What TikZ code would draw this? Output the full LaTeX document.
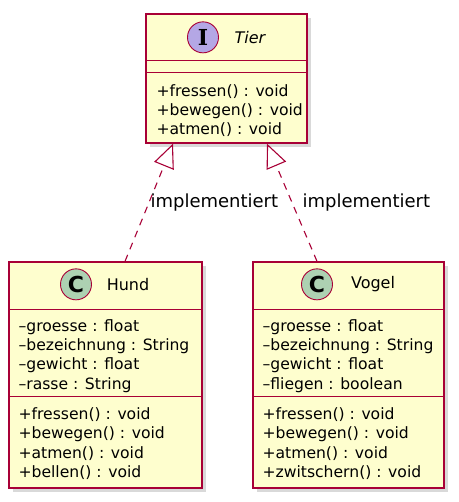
\documentclass[tikz,border=0pt]{standalone}
\usepackage{fontspec}
\setmainfont{DejaVu Sans}
\newfontfamily\iconfont{DejaVu Serif}
\usepackage{tikz}
\usetikzlibrary{arrows.meta,positioning,calc,shadows}
\definecolor{umlfill}{HTML}{FEFECE}
\definecolor{umlline}{HTML}{A80036}
\definecolor{ifacefill}{HTML}{B4A7E5}
\definecolor{classfill}{HTML}{ADD1B2}
\begin{document}
\begin{tikzpicture}[x=1pt, y=1pt,
  cls/.style={draw=umlline, line width=1.3pt, fill=umlfill, rectangle, inner sep=0pt, drop shadow={shadow xshift=4pt, shadow yshift=-4pt, opacity=0.3}},
  sep/.style={draw=umlline, line width=1.3pt},
  icon/.style={draw=umlline, line width=0.9pt, circle, minimum size=31pt, inner sep=0pt, font=\fontsize{22}{22}\selectfont\bfseries},
  cname/.style={font=\fontsize{16}{19}\selectfont, inner sep=0pt},
  mbr/.style={font=\fontsize{15.6}{19.3}\selectfont, align=left, anchor=north west, inner sep=0pt},
  impl/.style={draw=umlline, line width=1.1pt, dash pattern=on 7pt off 6pt, -{Triangle[open, length=24pt, width=21pt, line width=1.1pt]}},
  lbl/.style={font=\fontsize{18}{19}\selectfont, inner sep=0pt, anchor=west}
]
\useasboundingbox (0,0) rectangle (458,502);

% interface
\node[cls, minimum width=161pt, minimum height=129pt] (tier) at (226.5,423.5) {};
\draw[sep] ([yshift=-47pt]tier.north west) -- ([yshift=-47pt]tier.north east);
\draw[sep] ([yshift=-59pt]tier.north west) -- ([yshift=-59pt]tier.north east);
\node[icon, fill=ifacefill, font=\fontsize{22}{22}\selectfont\iconfont\bfseries] (tiericon) at ($(tier.north)+(-23.5,-24)$) {I};
\node[cname, font=\fontsize{16}{19}\selectfont\itshape] (tiername) at ($(tier.north)+(23.5,-24)$) {Tier};
\node[mbr] (tierops) at ($(tier.north west)+(11,-71)$) {+fressen() : void\\+bewegen() : void\\+atmen() : void};

% classes
\node[cls, minimum width=193pt, minimum height=226pt] (hund) at (105.5,127) {};
\draw[sep] ([yshift=-48pt]hund.north west) -- ([yshift=-48pt]hund.north east);
\draw[sep] ([yshift=-135pt]hund.north west) -- ([yshift=-135pt]hund.north east);
\node[icon, fill=classfill] (hundicon) at ($(hund.north)+(-29.5,-23)$) {C};
\node[cname] (hundname) at ($(hund.north)+(22.5,-23)$) {Hund};
\node[mbr] (hundattr) at ($(hund.north west)+(10,-58)$) {–groesse : float\\–bezeichnung : String\\–gewicht : float\\–rasse : String};
\node[mbr] (hundops) at ($(hund.north west)+(10,-146)$) {+fressen() : void\\+bewegen() : void\\+atmen() : void\\+bellen() : void};

\node[cls, minimum width=191pt, minimum height=226pt] (vogel) at (348.5,127) {};
\draw[sep] ([yshift=-48pt]vogel.north west) -- ([yshift=-48pt]vogel.north east);
\draw[sep] ([yshift=-135pt]vogel.north west) -- ([yshift=-135pt]vogel.north east);
\node[icon, fill=classfill] (vogelicon) at ($(vogel.north)+(-31.5,-23)$) {C};
\node[cname] (vogelname) at ($(vogel.north)+(24.5,-23)$) {Vogel};
\node[mbr] (vogelattr) at ($(vogel.north west)+(10,-58)$) {–groesse : float\\–bezeichnung : String\\–gewicht : float\\–fliegen : boolean};
\node[mbr] (vogelops) at ($(vogel.north west)+(10,-146)$) {+fressen() : void\\+bewegen() : void\\+atmen() : void\\+zwitschern() : void};

% realisations
\draw[impl] ([xshift=19.5pt]hund.north) -- node[lbl, pos=0.5, xshift=1pt] {implementiert} ([xshift=-53.5pt]tier.south);
\draw[impl] ([xshift=-31.5pt]vogel.north) -- node[lbl, pos=0.5, xshift=10pt] {implementiert} ([xshift=40.5pt]tier.south);

\end{tikzpicture}
\end{document}
